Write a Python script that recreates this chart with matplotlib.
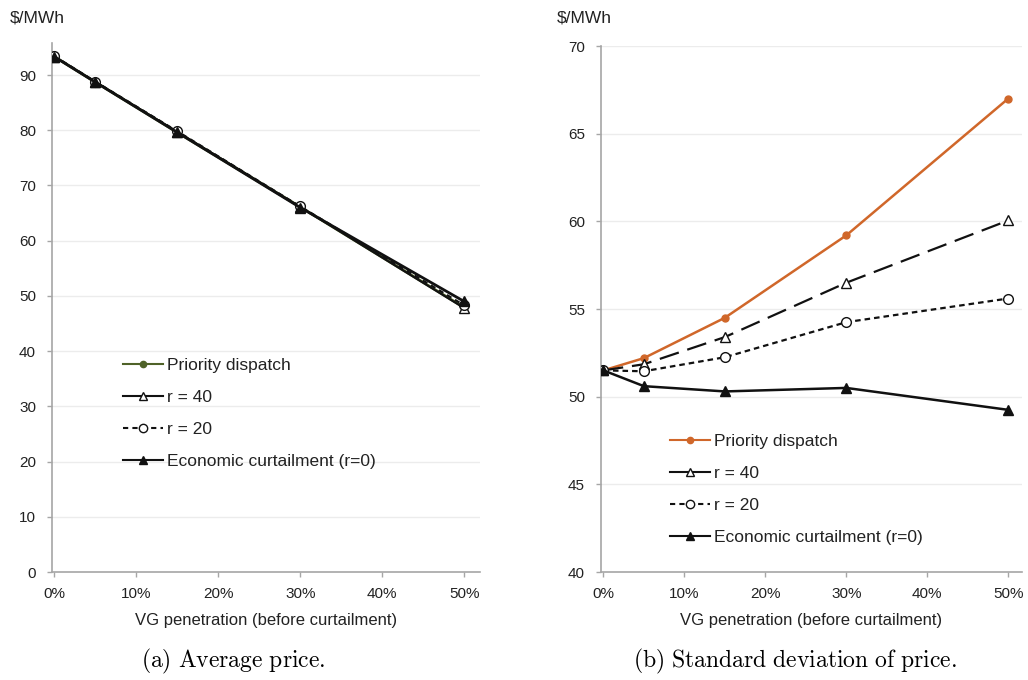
import matplotlib
matplotlib.use('Agg')
import matplotlib.pyplot as plt
from matplotlib.lines import Line2D
from matplotlib.ticker import FuncFormatter

plt.rcParams['font.family'] = ['Liberation Sans', 'DejaVu Sans']
plt.rcParams['mathtext.fontset'] = 'cm'

# === DATOS ===
vg_pen = [0.0, 0.05, 0.15, 0.30, 0.50]

avg_priority = [93.3, 88.7, 79.6, 66.1, 47.9]
avg_r40 = [93.3, 88.7, 79.7, 66.1, 47.8]
avg_r20 = [93.4, 88.8, 79.8, 66.2, 48.3]
avg_econ = [93.3, 88.7, 79.6, 66.0, 49.0]

sd_priority = [51.5, 52.2, 54.5, 59.2, 67.0]
sd_r40 = [51.5, 51.85, 53.4, 56.5, 60.05]
sd_r20 = [51.5, 51.45, 52.25, 54.25, 55.6]
sd_econ = [51.5, 50.6, 50.3, 50.5, 49.25]

labels = ["Priority dispatch", "r = 40", "r = 20", "Economic curtailment (r=0)"]
captions = [r"$\mathrm{(a)\ Average\ price.}$", r"$\mathrm{(b)\ Standard\ deviation\ of\ price.}$"]

GRIS = '#a6a6a6'
GRID = '#ececec'
TXT = '#222222'

fig = plt.figure(figsize=(10.28, 6.8), dpi=100)
ax1 = fig.add_axes([0.0506, 0.1588, 0.416, 0.778])
ax2 = fig.add_axes([0.5846, 0.1588, 0.4095, 0.7735])


def estilo(ax, yticks):
    for s in ['top', 'right']:
        ax.spines[s].set_visible(False)
    for s in ['left', 'bottom']:
        ax.spines[s].set_color(GRIS)
        ax.spines[s].set_linewidth(1.2)
    ax.set_xticks([0, 0.1, 0.2, 0.3, 0.4, 0.5])
    ax.xaxis.set_major_formatter(FuncFormatter(lambda v, p: f"{v*100:.0f}%"))
    ax.set_yticks(yticks)
    ax.tick_params(axis='both', colors=GRIS, labelcolor=TXT, labelsize=11, length=3.5, width=1)
    ax.tick_params(axis='x', pad=7)
    ax.tick_params(axis='y', pad=8)
    ax.grid(axis='y', color=GRID, linewidth=1)
    ax.set_axisbelow(True)
    ax.set_xlabel("VG penetration (before curtailment)", fontsize=12, color=TXT, labelpad=9)


def leyenda(ax, color_pd, pos):
    handles = [
        Line2D([], [], color=color_pd, lw=1.5, marker='o', ms=4.5),
        Line2D([], [], color='#111111', lw=1.5, marker='^', ms=6, mfc='white', mec='#111111'),
        Line2D([], [], color='#111111', lw=1.5, ls=(0, (2.5, 2)), marker='o', ms=6, mfc='white', mec='#111111'),
        Line2D([], [], color='#111111', lw=1.5, marker='^', ms=6),
    ]
    ax.legend(handles, labels, loc='upper left', bbox_to_anchor=pos, bbox_transform=fig.transFigure,
              frameon=False, fontsize=12.5, handlelength=2.3, handletextpad=0.2, labelspacing=0.97,
              borderaxespad=0, borderpad=0, labelcolor=TXT)


# --- (a) precio medio ---
ax1.plot(vg_pen, avg_priority, color='#4f6228', lw=2, marker='o', ms=5, zorder=3)
ax1.plot(vg_pen, avg_r40, color='#111111', lw=1.5, marker='^', ms=7, mfc='white', zorder=4)
ax1.plot(vg_pen, avg_r20, color='#111111', lw=1.5, ls=(0, (2.5, 2)), marker='o', ms=7, mfc='white', zorder=5)
ax1.plot(vg_pen, avg_econ, color='#111111', lw=2, marker='^', ms=7, zorder=6)
ax1.set_xlim(-0.003, 0.519)
ax1.set_ylim(0, 95.8)
estilo(ax1, range(0, 100, 10))
leyenda(ax1, '#4f6228', (0.120, 0.4735))
fig.text(0.010, 0.973, "$/MWh", fontsize=12.5, color=TXT, va='center')

# --- (b) desviación estándar ---
ax2.plot(vg_pen, sd_priority, color='#d0672a', lw=1.8, marker='o', ms=5, zorder=3)
ax2.plot(vg_pen, sd_r40, color='#111111', lw=1.6, ls=(0, (9, 4)), marker='^', ms=7, mfc='white', zorder=4)
ax2.plot(vg_pen, sd_r20, color='#111111', lw=1.6, ls=(0, (2.5, 1.8)), marker='o', ms=7, mfc='white', zorder=5)
ax2.plot(vg_pen, sd_econ, color='#111111', lw=1.8, marker='^', ms=7, zorder=6)
ax2.set_xlim(-0.003, 0.517)
ax2.set_ylim(40, 70)
estilo(ax2, range(40, 71, 5))
leyenda(ax2, '#d0672a', (0.652, 0.3618))
fig.text(0.542, 0.973, "$/MWh", fontsize=12.5, color=TXT, va='center')

fig.text(0.227, 0.028, captions[0], fontsize=17, ha='center', va='center')
fig.text(0.773, 0.028, captions[1], fontsize=17, ha='center', va='center')

plt.savefig("out.png", dpi=100)
plt.close()
